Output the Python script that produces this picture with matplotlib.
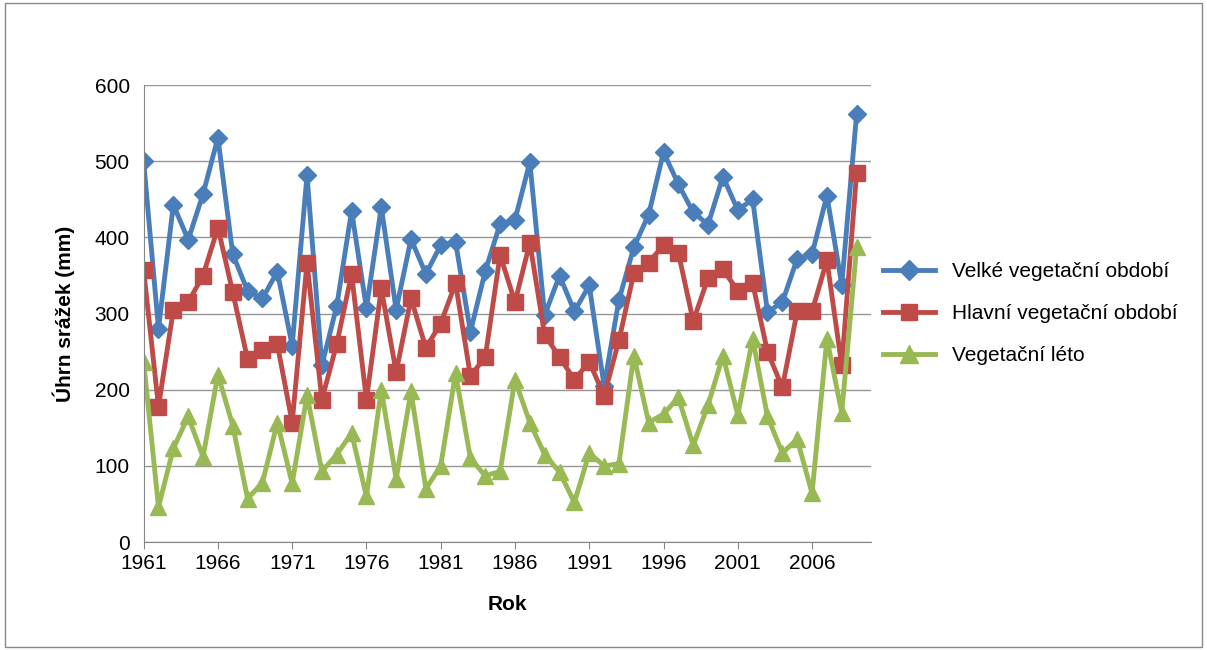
import numpy as np
import matplotlib.pyplot as plt
from matplotlib.patches import Rectangle

plt.rcParams['font.family'] = ['Liberation Sans', 'DejaVu Sans']

roky = np.arange(1961, 2010)

velke = [500, 280, 443, 397, 457, 531, 378, 330, 320, 355, 258, 482, 232, 310, 435,
         307, 440, 305, 398, 352, 390, 394, 276, 356, 418, 423, 499, 298, 350, 303,
         337, 205, 318, 387, 430, 512, 470, 433, 417, 480, 436, 450, 302, 315, 372,
         378, 455, 338, 562]
hlavni = [357, 178, 305, 315, 350, 413, 328, 240, 252, 260, 157, 367, 187, 260, 352,
          187, 333, 223, 320, 255, 287, 340, 218, 243, 377, 315, 393, 272, 243, 213,
          237, 192, 265, 353, 367, 390, 380, 290, 347, 358, 330, 340, 250, 203, 303,
          303, 370, 232, 485]
leto = [237, 46, 123, 165, 112, 220, 153, 57, 78, 157, 77, 193, 93, 115, 143,
        60, 200, 83, 198, 70, 100, 222, 110, 87, 93, 213, 157, 115, 92, 52,
        117, 100, 103, 245, 157, 168, 190, 127, 180, 245, 167, 267, 165, 117, 135,
        64, 267, 170, 387]

fig = plt.figure(figsize=(12.07, 6.5), dpi=100)
fig.patches.append(Rectangle((0.004, 0.004), 0.992, 0.992, transform=fig.transFigure,
                             fill=False, edgecolor='#888888', linewidth=1))
ax = fig.add_axes([0.119, 0.166, 0.603, 0.703])

ax.plot(roky, velke, color='#4a7ebb', marker='D', markersize=9, linewidth=3.5,
        label='Velké vegetační období')
ax.plot(roky, hlavni, color='#be4b48', marker='s', markersize=11, linewidth=3.5,
        label='Hlavní vegetační období')
ax.plot(roky, leto, color='#98b954', marker='^', markersize=12, linewidth=3.5,
        label='Vegetační léto')

ax.set_xlim(1961, 2010)
ax.set_ylim(0, 600)
ax.set_xticks(np.arange(1961, 2010, 5))
ax.set_yticks(np.arange(0, 601, 100))
ax.yaxis.grid(True, color='#969696', linewidth=1)
ax.set_axisbelow(True)
for s in ['top', 'right']:
    ax.spines[s].set_visible(False)
ax.spines['left'].set_color('#868686')
ax.spines['bottom'].set_color('#868686')
ax.tick_params(axis='both', labelsize=15, color='#868686', length=5)
ax.tick_params(axis='y', length=0, pad=10)
ax.set_xlabel('Rok', fontsize=15, fontweight='bold', labelpad=16)
ax.set_ylabel('Úhrn srážek (mm)', fontsize=15, fontweight='bold', labelpad=14)

ax.legend(loc='center left', bbox_to_anchor=(0.99, 0.5), frameon=False, fontsize=15,
          handlelength=2.5, labelspacing=1.1, markerscale=1.1)

fig.savefig('out.png', dpi=100)
